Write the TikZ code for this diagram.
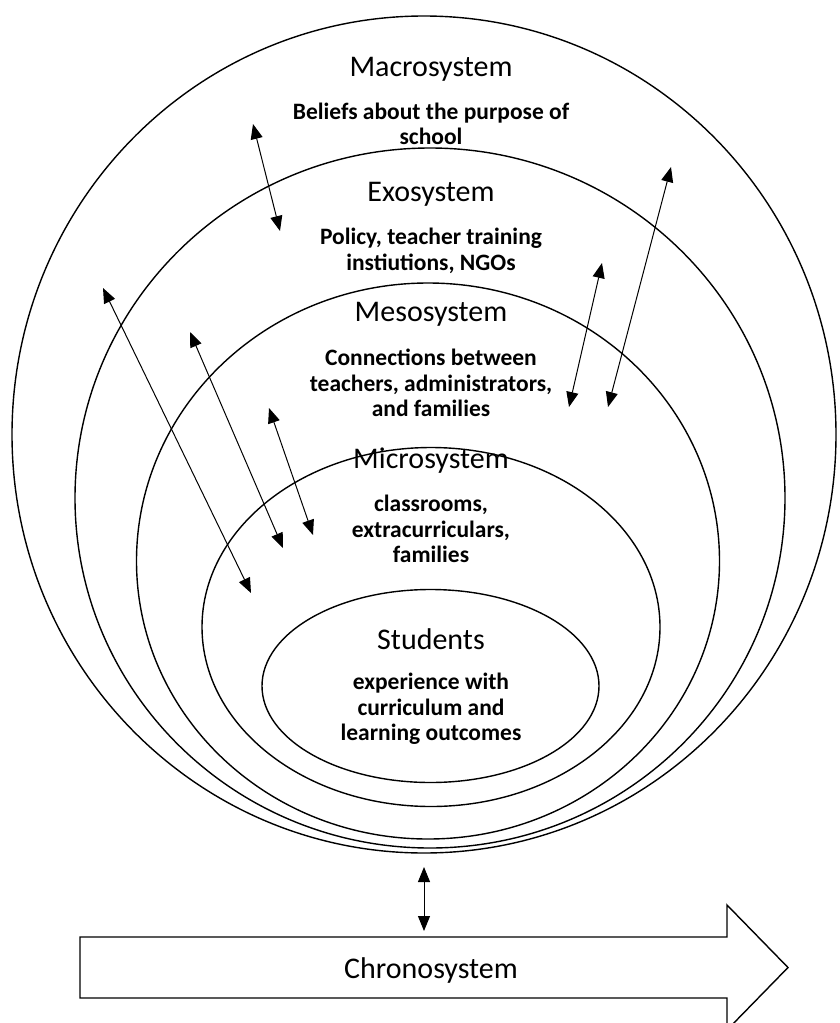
\documentclass[tikz,border=0pt]{standalone}
\usepackage{fontspec}
\setmainfont{Carlito}
\usetikzlibrary{shapes.geometric,arrows.meta}
\begin{document}
\begin{tikzpicture}[x=1pt,y=-1pt,
  ring/.style={draw, ellipse, inner sep=0pt, line width=1.4pt},
  title/.style={inner sep=0pt, font=\fontsize{30}{34}\selectfont},
  body/.style={inner sep=0pt, align=center, font=\bfseries\fontsize{23.5}{25.5}\selectfont},
  link/.style={line width=1pt, {Triangle[length=15pt,width=12pt]}-{Triangle[length=15pt,width=12pt]}}]
\useasboundingbox (0,0) rectangle (840,1023);
% systems
\node[ring, minimum width=824pt, minimum height=837pt] (macro) at (424,434.5) {};
\node[ring, minimum width=710pt, minimum height=700pt] (exo) at (430,498) {};
\node[ring, minimum width=583pt, minimum height=556pt] (meso) at (428,561) {};
\node[ring, minimum width=458pt, minimum height=359pt] (micro) at (431,627) {};
\node[ring, minimum width=337pt, minimum height=193pt] (stud) at (430.5,686) {};
% texts
\node[title] (tmacro) at (431,69) {Macrosystem};
\node[body] (bmacro) at (431,124) {Beliefs about the purpose of\\school};
\node[title] (texo) at (431,194) {Exosystem};
\node[body] (bexo) at (431,251) {Policy, teacher training\\instiutions, NGOs};
\node[title] (tmeso) at (431,314) {Mesosystem};
\node[body] (bmeso) at (431,383) {Connections between\\teachers, administrators,\\and families};
\node[title] (tmicro) at (431,461) {Microsystem};
\node[body] (bmicro) at (431,529) {classrooms,\\extracurriculars,\\families};
\node[title] (tstud) at (431,639) {Students};
\node[body] (bstud) at (431,709) {experience with\\curriculum and\\learning outcomes};
% chronosystem arrow
\draw[line width=1.4pt, line join=miter] (80,937) -- (727,937) -- (727,905) -- (788,967.5) -- (727,1030) -- (727,998) -- (80,998) -- cycle;
\node[title] (tchrono) at (431,970) {Chronosystem};
% arrow end points
\coordinate (a1) at (253,124);  \coordinate (a2) at (280,231);
\coordinate (b1) at (671,167);  \coordinate (b2) at (608,407);
\coordinate (c1) at (602,263);  \coordinate (c2) at (569,407);
\coordinate (d1) at (103,288);  \coordinate (d2) at (251,593);
\coordinate (e1) at (190,332);  \coordinate (e2) at (283,548);
\coordinate (f1) at (269,408);  \coordinate (f2) at (313,535);
\coordinate (g1) at (424,867);  \coordinate (g2) at (424,931);
\draw[link] (a1) -- (a2);
\draw[link] (b1) -- (b2);
\draw[link] (c1) -- (c2);
\draw[link] (d1) -- (d2);
\draw[link] (e1) -- (e2);
\draw[link] (f1) -- (f2);
\draw[link] (g1) -- (g2);
\end{tikzpicture}
\end{document}
